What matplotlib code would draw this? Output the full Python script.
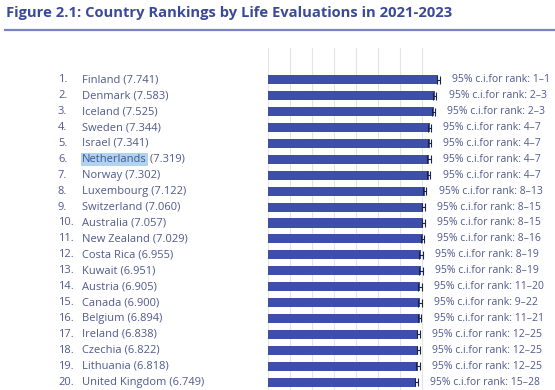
import matplotlib
matplotlib.use("Agg")
import matplotlib.pyplot as plt
from matplotlib.transforms import blended_transform_factory

# data
countries = ["Finland", "Denmark", "Iceland", "Sweden", "Israel", "Netherlands",
             "Norway", "Luxembourg", "Switzerland", "Australia", "New Zealand",
             "Costa Rica", "Kuwait", "Austria", "Canada", "Belgium", "Ireland",
             "Czechia", "Lithuania", "United Kingdom"]
scores = [7.741, 7.583, 7.525, 7.344, 7.341, 7.319, 7.302, 7.122, 7.060, 7.057,
          7.029, 6.955, 6.951, 6.905, 6.900, 6.894, 6.838, 6.822, 6.818, 6.749]
ci_half = [0.07, 0.07, 0.07, 0.07, 0.07, 0.07, 0.07, 0.07, 0.07, 0.07,
           0.07, 0.08, 0.08, 0.08, 0.08, 0.07, 0.07, 0.07, 0.08, 0.07]
rank_lo = [1, 2, 2, 4, 4, 4, 4, 8, 8, 8, 8, 8, 8, 11, 9, 11, 12, 12, 12, 15]
rank_hi = [1, 3, 3, 7, 7, 7, 7, 13, 15, 15, 16, 19, 19, 20, 22, 21, 25, 25, 25, 28]
highlight = "Netherlands"

BAR = "#3d4fa8"
TITLE = "#3b4a98"
TXT = "#4f5a8e"

plt.rcParams["font.family"] = ["Open Sans", "DejaVu Sans"]

fig = plt.figure(figsize=(5.55, 3.9), dpi=100)
fig.patch.set_facecolor("white")

# title and rule
fig.text(6 / 555, 1 - 13 / 390, "Figure 2.1: Country Rankings by Life Evaluations in 2021-2023",
         fontsize=10.6, fontweight="bold", color=TITLE, va="center", ha="left")
fig.add_artist(plt.Line2D([5 / 555, 1], [1 - 29.5 / 390] * 2, color="#7a83c2", lw=1.6))

ax = fig.add_axes([268 / 555, 0, 1 - 268 / 555, 342 / 390])
ypos = list(range(len(countries)))
ax.barh(ypos, scores, height=0.57, color=BAR, zorder=2)
ax.errorbar(scores, ypos, xerr=ci_half, fmt="none", ecolor="#1e2240",
            elinewidth=0.8, capsize=2.6, capthick=0.8, zorder=3)
ax.set_xlim(0, 287 / 22)
ax.set_ylim(19.5, -2.0)
ax.set_xticks(range(8))
ax.set_yticks([])
ax.tick_params(axis="x", length=0, labelbottom=False)
ax.grid(axis="x", color="#e4e4e4", lw=0.8, zorder=0)
for s in ax.spines.values():
    s.set_visible(False)

tr = blended_transform_factory(fig.transFigure, ax.transData)
for i, (c, v) in enumerate(zip(countries, scores)):
    ax.text(58 / 555, i, f"{i + 1}.", transform=tr, fontsize=8, color=TXT,
            va="center", ha="left")
    if c == highlight:
        t = ax.text(82 / 555, i, c, transform=tr, fontsize=8, color="#3b5a92",
                    va="center", ha="left",
                    bbox=dict(fc="#b3d2ef", ec="none", pad=0.6))
        ax.annotate(f" ({v:.3f})", xy=(1, 0.5), xycoords=t, fontsize=8,
                    color=TXT, va="center", ha="left")
    else:
        ax.text(82 / 555, i, f"{c} ({v:.3f})", transform=tr, fontsize=8,
                color=TXT, va="center", ha="left")
    ax.annotate(f"95% c.i.for rank: {rank_lo[i]}\u2013{rank_hi[i]}", xy=(v, i),
                xytext=(10, 0), textcoords="offset points", fontsize=7.5,
                color=TXT, va="center", ha="left", annotation_clip=False)

fig.savefig("out.png", dpi=100)
